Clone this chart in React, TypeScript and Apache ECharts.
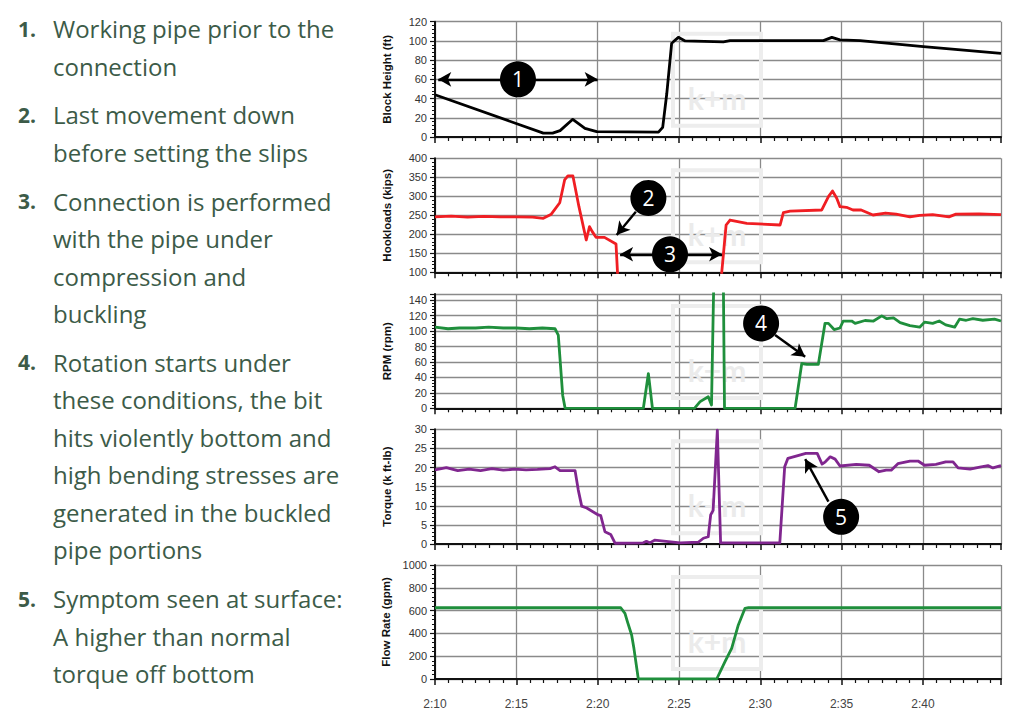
import React, { useEffect, useRef } from "react";
import * as echarts from "echarts";

// ---------- data (time = minutes after 2:10) ----------
const blockT = [0, 6.66, 7.23, 7.69, 8.47, 9.22, 9.94, 13.74, 14.0, 14.25, 14.55, 14.96, 15.38, 17.73, 18.14, 23.88, 24.4, 24.9, 26.14, 30.03, 34.8];
const blockV = [44, 4, 4, 6.6, 18.4, 9, 5.5, 5, 10, 45, 97.5, 103.7, 100, 99, 100.3, 100.3, 103.7, 101, 100.3, 94, 87];

const hookT = [0, 1, 2, 3, 4, 5, 6, 6.66, 7.15, 7.67, 7.97, 8.17, 8.48, 8.85, 9.3, 9.5, 9.67, 9.9, 10.42, 11.13, 11.22, 11.3, 17.55, 17.63, 17.9, 18.14, 19.17, 21.22, 21.42, 21.83, 23.78, 24.19, 24.44, 24.7, 24.9, 25.3, 25.7, 26.2, 26.93, 27.7, 28.35, 29.2, 29.8, 30.6, 31.6, 32.03, 33.45, 34.8];
const hookV = [246, 248, 245, 247, 246, 246, 245, 242, 253, 283, 343, 353.5, 353.5, 272.7, 185, 220, 207, 192, 192, 174.5, 100, 40, 40, 100, 224.5, 237.6, 229, 224.5, 257, 261, 264, 299, 314, 295, 272.7, 271, 264, 264, 250.8, 256, 253, 246, 250, 252, 246, 253, 254, 252];

const rpmT = [0, 0.8, 1.5, 2.5, 3.3, 4.2, 5.0, 5.8, 6.6, 7.38, 7.58, 7.73, 7.85, 8.0, 12.81, 13.12, 13.37, 15.95, 16.3, 16.8, 17.0, 17.26, 17.67, 17.8, 22.14, 22.55, 22.86, 23.57, 23.98, 24.19, 24.54, 24.9, 25.1, 25.62, 25.83, 26.44, 26.96, 27.47, 27.78, 28.19, 28.6, 29.2, 29.8, 30.1, 30.6, 31.0, 31.4, 31.95, 32.25, 32.66, 33.07, 33.68, 34.4, 34.8];
const rpmV = [105, 103, 104, 104, 105, 104, 104, 103, 104, 103, 94.8, 51.7, 17, 0, 0, 45, 0, 0, 8.6, 15, 4.3, 300, 300, 0, 0, 58, 57, 57, 110, 110, 102, 104, 113, 113, 110, 113.7, 113, 119.7, 116, 117, 111, 107, 105, 111.6, 110, 113, 108, 105, 115.5, 114, 116, 114, 115.5, 113];

const torqueT = [0, 0.7, 1.4, 2.1, 2.8, 3.5, 4.2, 4.9, 5.6, 6.3, 7.07, 7.38, 7.69, 8.61, 8.81, 9.02, 9.33, 10.04, 10.19, 10.45, 10.8, 11.07, 12.8, 13.0, 13.2, 13.5, 15.07, 16.2, 16.5, 16.8, 16.95, 17.1, 17.36, 17.56, 21.2, 21.5, 21.7, 22.2, 22.8, 23.5, 23.8, 24.0, 24.3, 24.6, 24.9, 25.9, 26.7, 27.3, 27.74, 28.05, 28.46, 29.2, 29.7, 30.1, 30.8, 31.4, 31.85, 32.16, 32.9, 33.5, 34.0, 34.3, 34.8];
const torqueV = [19.4, 20, 19.2, 19.6, 19.2, 19.7, 19.3, 19.6, 19.4, 19.5, 19.7, 20.2, 19.2, 19.2, 14.1, 9.9, 9.4, 7.6, 7.4, 3.2, 2.5, 0.2, 0.3, 0.7, 0.3, 1.0, 0.3, 0.5, 1.5, 1.9, 7.6, 8.8, 29.8, 0.3, 0.3, 20.2, 22.4, 23.0, 23.7, 23.7, 20.9, 21.5, 22.8, 22.2, 20.4, 20.8, 20.6, 18.9, 19.3, 19.3, 21.0, 21.7, 21.7, 20.6, 20.8, 21.5, 21.5, 19.9, 19.6, 20.1, 20.5, 19.9, 20.5];

const flowT = [0, 11.42, 11.68, 11.83, 12.09, 12.23, 12.5, 17.32, 17.83, 18.24, 18.65, 19.06, 19.27, 34.8];
const flowV = [625, 625, 576, 503, 386, 269, 0, 0, 152, 269, 474, 620, 625, 625];

const axisNames = ["Block Height (ft)", "Hookloads (kips)", "RPM (rpm)", "Torque (k ft-lb)", "Flow Rate (gpm)"];
const yMins = [0, 100, 0, 0, 0];
const yMaxs = [120, 400, 148, 30, 1000];
const yIntervals = [20, 50, 20, 5, 200];
const lineColors = ["#000000", "#f01e23", "#1f8f3c", "#80268f", "#1f8f3c"];

// annotation markers: panel, label, centre [minute, value]
const markerPanels = [0, 1, 1, 2, 3];
const markerLabels = ["1", "2", "3", "4", "5"];
const markerCoords = [[5.1, 60], [13.12, 295.6], [14.45, 147.4], [20.05, 109.9], [24.97, 7.1]];
// arrows: panel, from, to, double-headed
const arrowPanels = [0, 1, 1, 2, 3];
const arrowFrom = [[0.2, 60], [12.35, 259.5], [11.38, 147.4], [20.91, 94.8], [24.19, 11.1]];
const arrowTo = [[10.0, 60], [11.17, 198], [17.65, 147.4], [22.76, 66.7], [22.76, 22.2]];
const arrowDouble = [true, false, true, false, false];

// left-hand notes
const noteNumbers = ["1.", "2.", "3.", "4.", "5."];
const noteLines = [
  ["Working pipe prior to the", "connection"],
  ["Last movement down", "before setting the slips"],
  ["Connection is performed", "with the pipe under", "compression and", "buckling"],
  ["Rotation starts under", "these conditions, the bit", "hits violently bottom and", "high bending stresses are", "generated in the buckled", "pipe portions"],
  ["Symptom seen at surface:", "A higher than normal", "torque off bottom"],
];

const seriesT = [blockT, hookT, rpmT, torqueT, flowT];
const seriesV = [blockV, hookV, rpmV, torqueV, flowV];

const gridTops = [21.7, 158.3, 294, 429.3, 565];
const gridHeights = [115.3, 114, 114.3, 114.7, 114];

export default function App() {
  const ref = useRef<HTMLDivElement>(null);
  useEffect(() => {
    if (!ref.current) return;
    const chart = echarts.init(ref.current, undefined, { renderer: "svg" });
    const grids = gridTops.map((t, i) => ({ left: 435, width: 566, top: t, height: gridHeights[i] }));
    const xAxes = gridTops.map((_, i) => ({
      type: "value",
      gridIndex: i,
      min: 0,
      max: 34.8,
      interval: 5,
      axisLine: { show: true, onZero: false, lineStyle: { color: "#111", width: 2 } },
      axisTick: { show: true, length: 6, lineStyle: { color: "#111", width: 1.5 } },
      minorTick: { show: true, splitNumber: 6, length: 4, lineStyle: { color: "#111", width: 1.2 } },
      splitLine: { show: true, lineStyle: { color: "#8a8a8a", width: 1.3 } },
      axisLabel: {
        show: i === 4,
        margin: 19,
        fontSize: 12,
        color: "#444",
        fontFamily: "Liberation Sans",
        formatter: (v: number) => (Math.abs(v % 5) < 1e-6 ? `2:${10 + v}` : ""),
      },
    }));
    const yAxes = gridTops.map((_, i) => ({
      type: "value",
      gridIndex: i,
      min: yMins[i],
      max: yMaxs[i],
      interval: yIntervals[i],
      name: axisNames[i],
      nameLocation: "middle",
      nameGap: 42,
      nameTextStyle: { fontWeight: "bold", fontSize: 11.5, color: "#111", fontFamily: "Liberation Sans" },
      axisLine: { show: true, lineStyle: { color: "#111", width: 2 } },
      axisTick: { show: true, length: 5, lineStyle: { color: "#111", width: 1.2 } },
      minorTick: { show: true, splitNumber: 5, length: 3, lineStyle: { color: "#111", width: 1 } },
      splitLine: { show: true, lineStyle: { color: "#8a8a8a", width: 1.3 } },
      axisLabel: {
        margin: 8,
        fontSize: 11,
        color: "#333",
        fontFamily: "Liberation Sans",
        formatter: (v: number) => (Math.abs(v % yIntervals[i]) < 1e-6 ? String(v) : ""),
      },
    }));
    const series: any[] = seriesT.map((ts, i) => {
      const mls: any[] = [];
      arrowPanels.forEach((p, k) => {
        if (p !== i) return;
        mls.push([
          { coord: arrowFrom[k], symbol: arrowDouble[k] ? "arrow" : "none" },
          { coord: arrowTo[k], symbol: "arrow" },
        ]);
      });
      const mps: any[] = [];
      markerPanels.forEach((p, k) => {
        if (p !== i) return;
        mps.push({ coord: markerCoords[k], value: markerLabels[k] });
      });
      return {
        type: "line",
        xAxisIndex: i,
        yAxisIndex: i,
        data: ts.map((t, j) => [t, seriesV[i][j]]),
        showSymbol: false,
        symbol: "none",
        clip: true,
        silent: true,
        lineStyle: { color: lineColors[i], width: 2.8, join: "round" },
        markLine: mls.length
          ? {
              silent: true,
              symbolSize: [11, 13],
              label: { show: false },
              lineStyle: { color: "#000", width: 2.4, type: "solid" },
              emphasis: { disabled: true },
              data: mls,
            }
          : undefined,
        markPoint: mps.length
          ? {
              silent: true,
              symbol: "circle",
              symbolSize: 36,
              itemStyle: { color: "#000" },
              label: { show: true, color: "#fff", fontSize: 21, fontFamily: "Open Sans", formatter: (p: any) => p.value },
              data: mps,
            }
          : undefined,
      };
    });

    const graphics: any[] = [];
    // watermark boxes
    gridTops.forEach((t) => {
      graphics.push({
        type: "rect",
        z: 1,
        silent: true,
        shape: { x: 673, y: t + 12, width: 88, height: 92 },
        style: { fill: "none", stroke: "#ededed", lineWidth: 4 },
      });
      graphics.push({
        type: "text",
        z: 1,
        silent: true,
        x: 717,
        y: t + 76,
        style: { text: "k+m", fill: "#ebebeb", font: "bold 30px Lato", align: "center", verticalAlign: "middle" },
      });
    });
    // notes
    let baseline = 36.7;
    const fs = 24;
    noteLines.forEach((lines, k) => {
      if (k > 0) baseline += 48.7 - 37.5;
      graphics.push({
        type: "text",
        x: 18,
        y: baseline - fs * 0.33,
        style: { text: noteNumbers[k], fill: "#3c5b48", font: `bold ${fs - 3}px 'Open Sans'`, verticalAlign: "middle" },
      });
      lines.forEach((ln, j) => {
        if (j > 0) baseline += 37.5;
        graphics.push({
          type: "text",
          x: 53,
          y: baseline - fs * 0.33,
          style: { text: ln, fill: "#3c5b48", font: `${fs}px 'Open Sans'`, verticalAlign: "middle" },
        });
      });
      baseline += 37.5;
    });

    chart.setOption({
      animation: false,
      backgroundColor: "#ffffff",
      grid: grids,
      xAxis: xAxes,
      yAxis: yAxes,
      series,
      graphic: graphics,
    });
    return () => chart.dispose();
  }, []);
  return <div ref={ref} style={{ position: "absolute", left: 0, top: 0, width: 1024, height: 722, background: "#fff" }} />;
}
